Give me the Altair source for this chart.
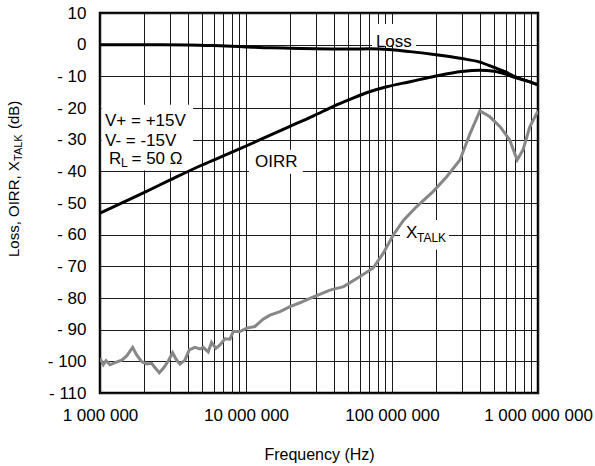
import altair as alt
import pandas as pd

# ---------------- data ----------------
loss_freq = [1e6, 2e6, 4e6, 6e6, 8e6, 1e7, 1.5e7, 2e7, 3e7, 5e7, 7e7, 1e8, 1.33e8,
             2e8, 3e8, 4e8, 5e8, 6e8, 7e8, 8e8, 9e8, 1e9]
loss_db = [0.0, 0.0, -0.1, -0.3, -0.5, -0.7, -1.0, -1.1, -1.3, -1.4, -1.3, -1.6, -2.2,
           -3.2, -4.4, -5.5, -7.2, -8.6, -10.2, -11.1, -11.9, -12.7]

oirr_freq = [1e6, 2e6, 3e6, 5e6, 7.8e6, 1e7, 2e7, 2.9e7, 4e7, 5.2e7, 7.1e7, 9.2e7,
             1.33e8, 2e8, 3e8, 4e8, 5e8, 6e8, 7e8, 8e8, 9e8, 1e9]
oirr_db = [-53.2, -46.7, -42.8, -38.0, -34.2, -32.0, -25.8, -22.5, -19.4, -17.2, -14.8,
           -13.3, -11.7, -9.9, -8.5, -8.1, -8.4, -9.3, -10.4, -11.2, -11.9, -12.7]

xtalk_freq = [1.0e6, 1.053e6, 1.099e6, 1.171e6, 1.267e6, 1.408e6, 1.524e6, 1.674e6,
              1.782e6, 1.929e6, 2.088e6, 2.258e6, 2.354e6, 2.548e6, 2.713e6, 2.937e6,
              3.145e6, 3.317e6, 3.529e6, 3.818e6, 4.083e6, 4.469e6, 4.837e6, 5.09e6,
              5.51e6, 5.81e6, 6.22e6, 6.63e6, 7.17e6, 7.76e6, 8.18e6, 9.10e6, 1.011e7,
              1.15e7, 1.31e7, 1.46e7, 1.71e7, 2.0e7, 2.34e7, 2.74e7, 3.76e7, 4.66e7,
              6.0e7, 7.4e7, 8.7e7, 1.02e8, 1.20e8, 1.47e8, 1.91e8, 2.37e8, 2.92e8,
              3.43e8, 4.0e8, 4.66e8, 5.5e8, 6.4e8, 7.2e8, 7.9e8, 8.8e8, 1.0e9]
xtalk_db = [-99.0, -101.1, -99.8, -101.1, -100.4, -99.6, -98.3, -95.6,
            -98.0, -100.1, -100.8, -100.6, -101.7, -103.6, -102.2, -99.9,
            -97.3, -99.3, -100.9, -99.6, -96.4, -95.6, -96.1, -95.6,
            -97.0, -94.0, -95.9, -94.8, -92.9, -93.0, -90.6, -90.6, -89.5,
            -89.0, -86.7, -85.4, -84.3, -82.7, -81.5, -80.1, -77.5, -76.4,
            -73.3, -70.6, -65.9, -60.1, -55.4, -51.2, -46.4, -41.7, -36.4,
            -28.0, -20.9, -22.7, -25.9, -30.1, -36.4, -33.2, -25.9, -20.9]

series_names = ["Loss", "OIRR", "XTALK"]
series_colors = ["#000000", "#000000", "#878787"]

x_major = [1e6, 1e7, 1e8, 1e9]
x_major_labels = ["1 000 000", "10 000 000", "100 000 000", "1 000 000 000"]
x_grid = [m * d for d in [1e6, 1e7, 1e8] for m in range(1, 10)] + [1e9]
y_ticks = list(range(-110, 11, 10))

# ---------------- tables ----------------
df = pd.concat([
    pd.DataFrame({"f": loss_freq, "db": loss_db, "s": "Loss"}),
    pd.DataFrame({"f": oirr_freq, "db": oirr_db, "s": "OIRR"}),
    pd.DataFrame({"f": xtalk_freq, "db": xtalk_db, "s": "XTALK"}),
], ignore_index=True)

boxes = pd.DataFrame({
    "x1": [1.025e6, 7.3e7, 1.048e7, 1.135e8],
    "x2": [4.34e6, 1.46e8, 2.45e7, 2.455e8],
    "y1": [-39.7, -0.4, -40.8, -64.8],
    "y2": [-19.0, 6.5, -33.2, -55.4],
})

labels = pd.DataFrame({
    "t": ["V+ = +15V", "V- = -15V", "R", "= 50 Ω", "Loss", "OIRR", "X"],
    "f": [1.082e6, 1.082e6, 1.152e6, 1.643e6, 7.76e7, 1.152e7, 1.248e8],
    "db": [-25.7, -32.0, -37.7, -37.7, -0.6, -38.5, -61.1],
})
subs = pd.DataFrame({
    "t": ["L", "TALK"],
    "f": [1.393e6, 1.483e8],
    "db": [-38.6, -62.2],
})

FONT = "Liberation Sans"

xlabel_expr = " : ".join(
    f"datum.value == {v:.0f} ? '{l}'" for v, l in zip(x_major, x_major_labels)
) + " : ''"

xs = alt.Scale(type="log", domain=[1e6, 1e9], nice=False)
ys = alt.Scale(domain=[-110, 10], nice=False, zero=False)

x_axis = alt.Axis(
    values=x_grid, labelExpr=xlabel_expr, grid=True, gridColor="#1a1a1a",
    gridWidth=1, gridOpacity=1, ticks=False, domain=False, labelFlush=False,
    labelOverlap=False, labelFont=FONT, labelFontSize=17, labelColor="black",
    labelPadding=14, title="Frequency (Hz)", titleFont=FONT, titleFontSize=16,
    titleFontWeight="normal", titleColor="black", titleY=66,
    titleBaseline="alphabetic",
)
y_axis = alt.Axis(
    values=y_ticks,
    labelExpr="datum.value < 0 ? '- ' + (-datum.value) : '' + datum.value",
    grid=True, gridColor="#1a1a1a", gridWidth=1, gridOpacity=1, ticks=False,
    domain=False, labelOverlap=False, labelFont=FONT, labelFontSize=17,
    labelColor="black", labelPadding=14, title=None,
)

X = lambda field: alt.X(f"{field}:Q", scale=xs, axis=x_axis)
Y = lambda field: alt.Y(f"{field}:Q", scale=ys, axis=y_axis)

rects = alt.Chart(boxes).mark_rect(color="white").encode(
    x=X("x1"), x2="x2", y=Y("y1"), y2="y2"
)

smooth = alt.Chart(df).transform_filter("datum.s != 'XTALK'").mark_line(
    strokeWidth=3, clip=True, interpolate="monotone"
).encode(
    x=X("f"), y=Y("db"), detail="s:N",
    color=alt.Color("s:N", scale=alt.Scale(domain=series_names, range=series_colors), legend=None),
)
xtalk = alt.Chart(df).transform_filter("datum.s == 'XTALK'").mark_line(
    strokeWidth=3, clip=True
).encode(
    x=X("f"), y=Y("db"),
    color=alt.Color("s:N", scale=alt.Scale(domain=series_names, range=series_colors), legend=None),
)

texts = alt.Chart(labels).mark_text(
    font=FONT, fontSize=17, align="left", baseline="alphabetic", color="black"
).encode(x=X("f"), y=Y("db"), text="t:N")

subtexts = alt.Chart(subs).mark_text(
    font=FONT, fontSize=12, align="left", baseline="alphabetic", color="black"
).encode(x=X("f"), y=Y("db"), text="t:N")

one = pd.DataFrame({"k": [0]})
ytitle_parts = []
for txt, size, px, py in [("Loss, OIRR, X", 15, -81, 244), ("TALK", 11, -78, 148),
                          ("(dB)", 15, -81, 116)]:
    ytitle_parts.append(
        alt.Chart(one).mark_text(
            text=txt, font=FONT, fontSize=size, angle=270, align="left",
            baseline="alphabetic", color="black"
        ).encode(x=alt.value(px), y=alt.value(py))
    )

chart = alt.layer(rects, smooth, xtalk, texts, subtexts, *ytitle_parts).properties(
    width=438, height=380,
    autosize=alt.AutoSizeParams(type="none"),
    padding={"left": 100, "top": 13, "right": 57, "bottom": 73},
    background="white",
).configure_view(stroke="black", strokeWidth=2.5)

chart.save("out.html", embed_options={"renderer": "svg", "actions": False})
